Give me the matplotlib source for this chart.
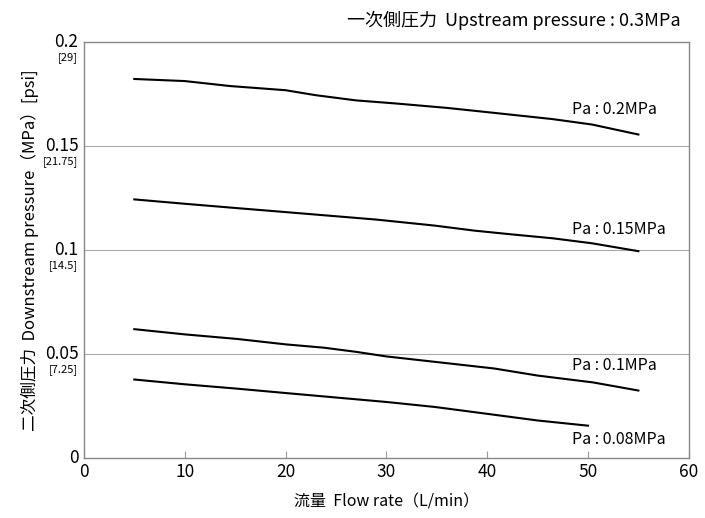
import numpy as np
import matplotlib
matplotlib.use('Agg')
import matplotlib.pyplot as plt
import matplotlib.transforms as mtransforms

plt.rcParams['font.family'] = ['Noto Sans CJK JP', 'DejaVu Sans']

# curves: flow rate (L/min) vs downstream pressure (MPa)
flow_02 = [5, 10, 14.5, 20, 23, 27, 31, 36, 40.7, 46.5, 50.4, 55]
p_02 = [0.1822, 0.1812, 0.1788, 0.1768, 0.1744, 0.1719, 0.1704, 0.1683, 0.1659, 0.1629, 0.1603, 0.1555]

flow_015 = [5, 10, 15.2, 20, 25, 29, 34.8, 38.7, 42.6, 46.5, 50.4, 55]
p_015 = [0.1243, 0.1222, 0.1201, 0.1182, 0.1162, 0.1146, 0.1117, 0.1093, 0.1074, 0.1056, 0.1032, 0.0994]

flow_01 = [5, 10, 15.2, 20, 23.8, 27, 30, 34.8, 40.7, 45, 50.5, 55]
p_01 = [0.0619, 0.0594, 0.0572, 0.0546, 0.0530, 0.0510, 0.0488, 0.0462, 0.0430, 0.0396, 0.0363, 0.0324]

flow_008 = [5, 10, 15.2, 20, 26.5, 30, 34.8, 40, 45, 50]
p_008 = [0.0377, 0.0354, 0.0333, 0.0312, 0.0284, 0.0269, 0.0245, 0.0212, 0.0180, 0.0155]

curve_labels = ['Pa : 0.2MPa', 'Pa : 0.15MPa', 'Pa : 0.1MPa', 'Pa : 0.08MPa']
label_y = [0.1673, 0.1096, 0.0442, 0.0087]

yticks = [0, 0.05, 0.1, 0.15, 0.2]
ytick_labels = ['0', '0.05', '0.1', '0.15', '0.2']
psi_labels = ['', '[7.25]', '[14.5]', '[21.75]', '[29]']
xticks = [0, 10, 20, 30, 40, 50, 60]

fig = plt.figure(figsize=(7.05, 5.18), dpi=100)
ax = fig.add_axes([0.119, 0.116, 0.858, 0.803])

for fx, py in [(flow_02, p_02), (flow_015, p_015), (flow_01, p_01), (flow_008, p_008)]:
    ax.plot(fx, py, color='black', lw=1.5)

for lab, ly in zip(curve_labels, label_y):
    ax.text(48.4, ly, lab, fontsize=11.5, va='center', ha='left')

ax.set_xlim(0, 60)
ax.set_ylim(0, 0.2)
ax.set_xticks(xticks)
ax.set_xticklabels([str(t) for t in xticks], fontsize=12.5)
ax.set_yticks(yticks)
ax.set_yticklabels(ytick_labels, fontsize=12.5)
ax.tick_params(axis='x', direction='in', length=5, color='#999999', pad=4)
ax.tick_params(axis='y', length=0, pad=4)
for t in ax.get_yticklabels():
    t.set_va('center')

for g in yticks[1:-1]:
    ax.axhline(g, color='#aaaaaa', lw=0.8, zorder=0)

for s in ax.spines.values():
    s.set_color('#888888')
    s.set_linewidth(1.0)

# psi labels under the MPa tick labels
trans = mtransforms.blended_transform_factory(ax.transAxes, ax.transData)
offset = mtransforms.ScaledTranslation(-4 / 72, -11 / 72, fig.dpi_scale_trans)
for yv, ps in zip(yticks, psi_labels):
    if ps:
        ax.text(0, yv, ps, fontsize=8, ha='right', va='center', transform=trans + offset)

ax.set_xlabel('流量  Flow rate（L/min）', fontsize=11.5, labelpad=9)
ax.set_ylabel('二次側圧力  Downstream pressure（MPa）[psi]', fontsize=12, labelpad=4)
fig.text(0.965, 0.961, '一次側圧力  Upstream pressure : 0.3MPa', fontsize=13, ha='right', va='center')

fig.savefig('out.png', dpi=100)
